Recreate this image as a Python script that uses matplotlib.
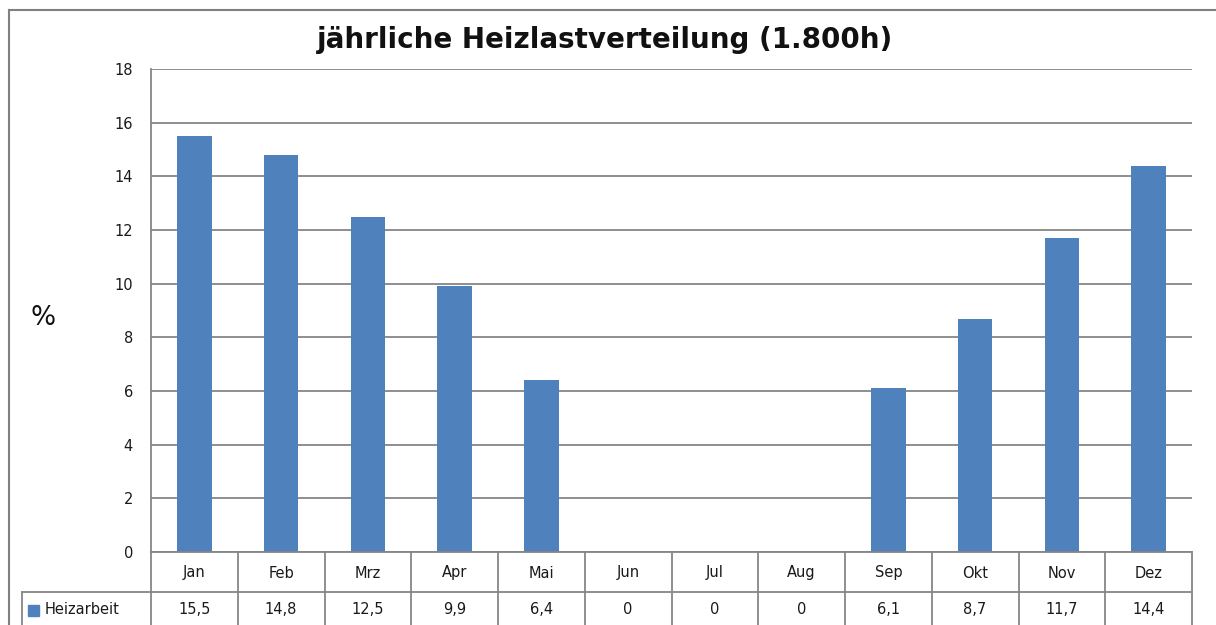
import matplotlib
matplotlib.use("Agg")
import matplotlib.pyplot as plt
from matplotlib.lines import Line2D
from matplotlib.patches import Rectangle
import matplotlib.transforms as mtransforms

months = ["Jan", "Feb", "Mrz", "Apr", "Mai", "Jun", "Jul", "Aug", "Sep", "Okt", "Nov", "Dez"]
heizarbeit = [15.5, 14.8, 12.5, 9.9, 6.4, 0, 0, 0, 6.1, 8.7, 11.7, 14.4]
value_labels = ["15,5", "14,8", "12,5", "9,9", "6,4", "0", "0", "0", "6,1", "8,7", "11,7", "14,4"]
series_name = "Heizarbeit"
title = "jährliche Heizlastverteilung (1.800h)"
yticks = [0, 2, 4, 6, 8, 10, 12, 14, 16, 18]

W, H = 1216, 625
fig = plt.figure(figsize=(W / 100, H / 100), dpi=100)
fig.patch.set_facecolor("white")

L, R, T, B = 151, 1192, 69, 552
ax = fig.add_axes([L / W, 1 - B / H, (R - L) / W, (B - T) / H])

bar_color = "#4F81BD"
grid_color = "#868686"
txt_color = "#1a1a1a"
fs = 10.5
x = list(range(len(months)))
ax.bar(x, heizarbeit, width=0.4, color=bar_color, zorder=3)
ax.set_xlim(-0.5, len(months) - 0.5)
ax.set_ylim(0, 18)
ax.set_yticks(yticks)
ax.set_yticklabels([str(v) for v in yticks], fontsize=fs, color=txt_color)
ax.yaxis.grid(True, color=grid_color, linewidth=1.3, zorder=0)
ax.set_xticks([])
ax.tick_params(axis="y", length=0, pad=13)
for s in ["top", "right", "bottom"]:
    ax.spines[s].set_visible(False)
ax.spines["left"].set_color(grid_color)
ax.spines["left"].set_linewidth(1.3)

# Table below the axes
trans = mtransforms.blended_transform_factory(ax.transData, ax.transAxes)
ph = B - T
def ya(py):
    return (B - py) / ph

row1_bot = ya(592)
row2_bot = ya(640)
lc = grid_color
lw = 1.3
ax.add_line(Line2D([-0.5, len(months) - 0.5], [0, 0], transform=trans, color=lc, lw=lw, clip_on=False, zorder=4))
ax.add_line(Line2D([-0.5, len(months) - 0.5], [row1_bot, row1_bot], transform=trans, color=lc, lw=lw, clip_on=False))
figtrans = fig.transFigure
ax.add_line(Line2D([22 / W, L / W], [1 - 592 / H, 1 - 592 / H], transform=figtrans, color=lc, lw=lw, clip_on=False))
ax.add_line(Line2D([22 / W, 22 / W], [1 - 592 / H, 0], transform=figtrans, color=lc, lw=lw, clip_on=False))
for i in range(len(months) + 1):
    xb = i - 0.5
    ax.add_line(Line2D([xb, xb], [0, row2_bot], transform=trans, color=lc, lw=lw, clip_on=False))
for i, m in enumerate(months):
    ax.text(i, ya(573), m, transform=trans, ha="center", va="center", fontsize=fs, color=txt_color)
    ax.text(i, ya(609), value_labels[i], transform=trans, ha="center", va="center", fontsize=fs, color=txt_color)
fig.patches.append(Rectangle((28 / W, 1 - 616 / H), 11 / W, 11 / H, transform=figtrans, color=bar_color))
fig.text(45 / W, 1 - 610 / H, series_name, ha="left", va="center", fontsize=fs, color=txt_color)

# y label
fig.text(43 / W, 1 - 318 / H, "%", ha="center", va="center", fontsize=19, color="#111111")
# title
fig.text(605 / W, 1 - 40 / H, title, ha="center", va="center", fontsize=20, fontweight="bold", color="#111111")

# outer border
fig.add_artist(Line2D([9 / W, 9 / W], [0, 1 - 10 / H], transform=figtrans, color="#808080", lw=1.5))
fig.add_artist(Line2D([9 / W, 1], [1 - 10 / H, 1 - 10 / H], transform=figtrans, color="#808080", lw=1.5))

fig.savefig("out.png", dpi=100, facecolor="white")
